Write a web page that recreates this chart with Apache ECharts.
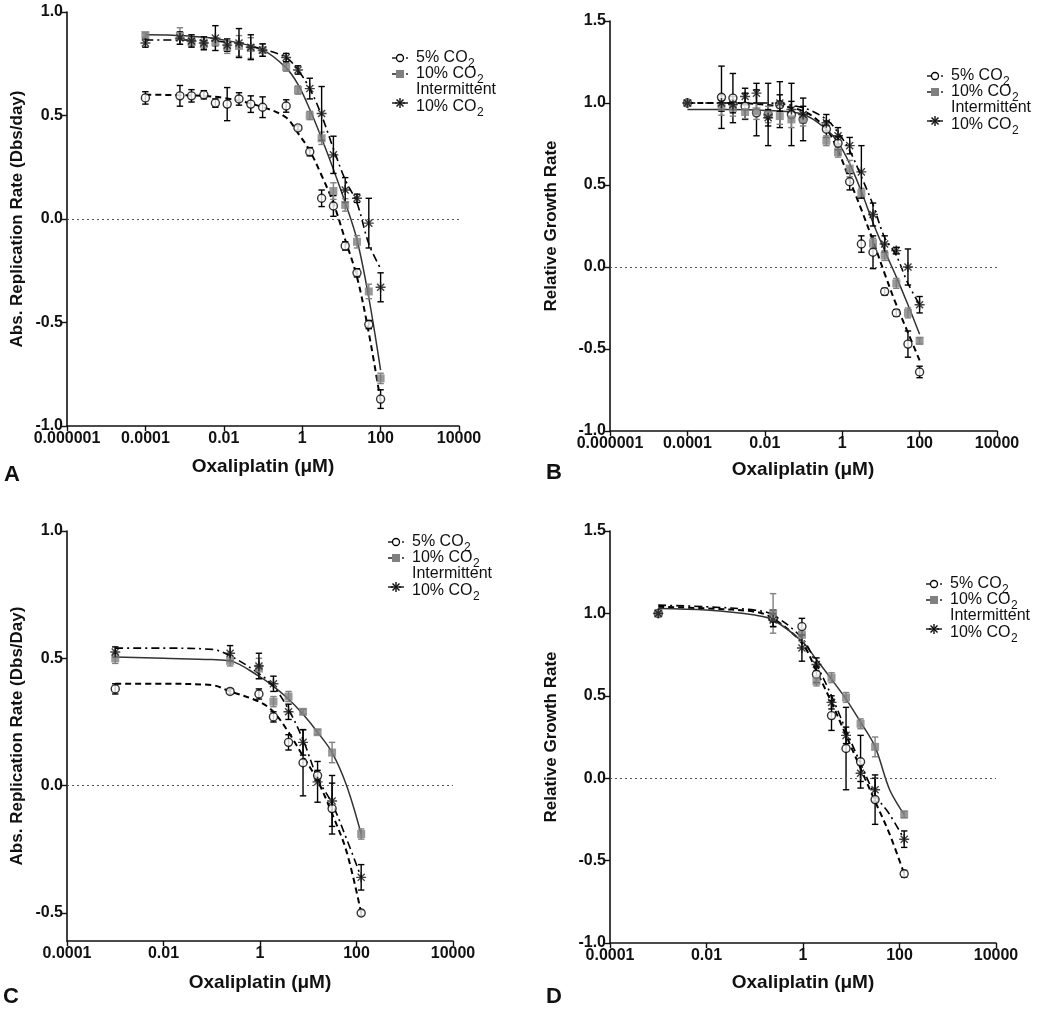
<!DOCTYPE html>
<html><head><meta charset="utf-8">
<script src="https://cdn.jsdelivr.net/npm/echarts@6/dist/echarts.min.js"></script>
<style>html,body{margin:0;padding:0;background:#fff}#c{width:1050px;height:1013px}</style>
</head><body><div id="c"></div><script>
// ---------- DATA ----------
const xTickValsAB = [1e-6, 1e-4, 1e-2, 1, 100, 1e4];
const xTickLabelsAB = ['0.000001', '0.0001', '0.01', '1', '100', '10000'];
const xTickValsCD = [1e-4, 1e-2, 1, 100, 1e4];
const xTickLabelsCD = ['0.0001', '0.01', '1', '100', '10000'];
const seriesNames = ['5% CO2', '10% CO2', 'Intermittent 10% CO2'];

// Panel A / B concentrations (µM)
const concAB = [0.0001, 0.00076, 0.0015, 0.0031, 0.0061, 0.0122, 0.0244, 0.0488, 0.0977, 0.39, 0.78, 1.56, 3.13, 6.25, 12.5, 25, 50, 100];
const A_co2_5 = [0.585, 0.595, 0.595, 0.60, 0.56, 0.555, 0.58, 0.555, 0.54, 0.546, 0.44, 0.325, 0.10, 0.063, -0.13, -0.26, -0.51, -0.87];
const A_co2_5_err = [0.03, 0.05, 0.03, 0.02, 0.02, 0.08, 0.03, 0.04, 0.05, 0.03, 0.01, 0.02, 0.04, 0.05, 0.02, 0.02, 0.02, 0.045];
const A_co2_10 = [0.889, 0.884, 0.855, 0.845, 0.855, 0.83, 0.836, 0.826, 0.816, 0.734, 0.623, 0.50, 0.39, 0.135, 0.068, -0.11, -0.35, -0.77];
const A_co2_10_err = [0.01, 0.04, 0.02, 0.03, 0.02, 0.03, 0.05, 0.05, 0.03, 0.02, 0.02, 0.02, 0.03, 0.04, 0.03, 0.03, 0.035, 0.025];
const A_int = [0.85, 0.874, 0.86, 0.85, 0.874, 0.84, 0.85, 0.83, 0.816, 0.78, 0.72, 0.63, 0.51, 0.31, 0.14, 0.10, -0.02, -0.33];
const A_int_err = [0.02, 0.03, 0.03, 0.03, 0.06, 0.03, 0.07, 0.06, 0.03, 0.02, 0.02, 0.05, 0.13, 0.09, 0.06, 0.02, 0.12, 0.07];

const B_co2_5 = [1.0, 1.035, 1.03, 0.98, 0.94, 0.93, 0.99, 0.93, 0.90, 0.84, 0.755, 0.52, 0.14, 0.09, -0.15, -0.28, -0.47, -0.64];
const B_co2_5_err = [0.01, 0.19, 0.15, 0.08, 0.14, 0.19, 0.14, 0.19, 0.13, 0.05, 0.04, 0.05, 0.05, 0.1, 0.02, 0.02, 0.08, 0.035];
const B_co2_10 = [1.0, 0.976, 0.97, 0.945, 0.95, 0.93, 0.92, 0.90, 0.90, 0.77, 0.70, 0.60, 0.45, 0.145, 0.07, -0.10, -0.28, -0.45];
const B_co2_10_err = [0.01, 0.05, 0.05, 0.04, 0.05, 0.05, 0.05, 0.05, 0.04, 0.03, 0.03, 0.05, 0.03, 0.03, 0.03, 0.03, 0.03, 0.02];
const B_int = [1.0, 1.0, 0.99, 1.04, 1.06, 0.91, 1.0, 0.96, 0.93, 0.88, 0.80, 0.74, 0.58, 0.32, 0.14, 0.10, 0.0, -0.23];
const B_int_err = [0.01, 0.05, 0.05, 0.05, 0.06, 0.05, 0.05, 0.05, 0.05, 0.05, 0.05, 0.05, 0.16, 0.07, 0.05, 0.02, 0.11, 0.05];

// fitted curves
const fitX_AB = [0.0001, 0.001, 0.01, 0.1, 0.39, 0.78, 1.56, 3.13, 6.25, 12.5, 25, 50, 100];
const A_fit_5 = [0.60, 0.598, 0.585, 0.54, 0.49, 0.415, 0.33, 0.21, 0.077, -0.10, -0.28, -0.55, -0.88];
const A_fit_10 = [0.89, 0.885, 0.865, 0.816, 0.73, 0.65, 0.53, 0.39, 0.24, 0.08, -0.10, -0.38, -0.73];
const A_fit_int = [0.865, 0.865, 0.855, 0.82, 0.78, 0.72, 0.63, 0.50, 0.34, 0.19, 0.077, -0.12, -0.24];
const B_fit_5 = [1.0, 1.0, 0.99, 0.95, 0.84, 0.71, 0.53, 0.35, 0.16, -0.04, -0.23, -0.40, -0.57];
const B_fit_10 = [0.96, 0.96, 0.955, 0.93, 0.84, 0.76, 0.63, 0.46, 0.27, 0.10, -0.06, -0.23, -0.41];
const B_fit_int = [1.0, 1.0, 1.0, 0.97, 0.90, 0.82, 0.71, 0.55, 0.38, 0.18, 0.07, -0.10, -0.23];

// Panel C / D concentrations (µM)
const concCD = [0.001, 0.24, 0.95, 1.9, 3.9, 7.8, 15.6, 31.2, 125];
const C_co2_5 = [0.38, 0.37, 0.36, 0.27, 0.17, 0.09, 0.04, -0.09, -0.50];
const C_co2_5_err = [0.02, 0.01, 0.02, 0.02, 0.03, 0.13, 0.02, 0.10, 0.01];
const C_co2_10 = [0.50, 0.49, 0.46, 0.33, 0.35, 0.29, 0.21, 0.13, -0.19];
const C_co2_10_err = [0.02, 0.02, 0.04, 0.02, 0.02, 0.01, 0.01, 0.04, 0.02];
const C_int = [0.525, 0.52, 0.47, 0.40, 0.29, 0.17, 0.015, -0.06, -0.36];
const C_int_err = [0.02, 0.03, 0.05, 0.03, 0.03, 0.05, 0.08, 0.10, 0.05];

const D_co2_5 = [1.0, 0.97, 0.92, 0.63, 0.38, 0.18, 0.10, -0.13, -0.58];
const D_co2_5_err = [0.01, 0.05, 0.05, 0.05, 0.09, 0.25, 0.16, 0.15, 0.02];
const D_co2_10 = [1.0, 1.0, 0.87, 0.59, 0.61, 0.49, 0.33, 0.19, -0.22];
const D_co2_10_err = [0.01, 0.12, 0.04, 0.03, 0.03, 0.03, 0.03, 0.06, 0.02];
const D_int = [1.0, 0.96, 0.79, 0.69, 0.46, 0.26, 0.03, -0.07, -0.37];
const D_int_err = [0.01, 0.04, 0.08, 0.04, 0.04, 0.05, 0.05, 0.07, 0.05];

const fitX_CD = [0.001, 0.01, 0.1, 0.24, 0.95, 1.9, 3.9, 7.8, 15.6, 31.2, 62.5, 125];
const C_fit_5 = [0.40, 0.40, 0.395, 0.37, 0.33, 0.29, 0.21, 0.115, 0.02, -0.11, -0.26, -0.50];
const C_fit_10 = [0.505, 0.50, 0.495, 0.49, 0.43, 0.39, 0.34, 0.28, 0.21, 0.13, 0.0, -0.19];
const C_fit_int = [0.54, 0.54, 0.535, 0.51, 0.44, 0.39, 0.30, 0.18, 0.03, -0.07, -0.21, -0.36];
const D_fit_5 = [1.04, 1.03, 1.01, 0.97, 0.82, 0.65, 0.46, 0.26, 0.06, -0.14, -0.34, -0.58];
const D_fit_10 = [1.03, 1.02, 0.99, 0.96, 0.83, 0.72, 0.60, 0.48, 0.34, 0.19, -0.07, -0.22];
const D_fit_int = [1.05, 1.04, 1.02, 0.99, 0.85, 0.69, 0.50, 0.29, 0.09, -0.10, -0.22, -0.37];

// ---------- STYLE / LAYOUT ----------
const FONT = '"Liberation Sans", Arial, Helvetica, sans-serif';
const GREY = '#808080';
const STAR = 'path://M-0.7,-5L0.7,-5L0.7,5L-0.7,5Z M-5,-0.7L5,-0.7L5,0.7L-5,0.7Z M-3.04,-4.03L4.03,3.04L3.04,4.03L-4.03,-3.04Z M3.04,-4.03L4.03,-3.04L-3.04,4.03L-4.03,3.04Z';

const panels = [
  { key: 'A', grid: { left: 67, top: 12, width: 392, height: 414 }, xmin: 1e-6, ticks: xTickValsAB, labels: xTickLabelsAB,
    ymin: -1, ymax: 1, yTicks: [-1, -0.5, 0, 0.5, 1],
    conc: concAB, vals: [A_co2_5, A_co2_10, A_int], errs: [A_co2_5_err, A_co2_10_err, A_int_err],
    fitX: fitX_AB, fits: [A_fit_5, A_fit_10, A_fit_int],
    ytitle: 'Abs. Replication Rate (Dbs/day)', ytx: 17, letter: [12, 475], xt: [263, 467], legend: [400, 58] },
  { key: 'B', grid: { left: 610, top: 21, width: 387, height: 410 }, xmin: 1e-6, ticks: xTickValsAB, labels: xTickLabelsAB,
    ymin: -1, ymax: 1.5, yTicks: [-1, -0.5, 0, 0.5, 1, 1.5],
    conc: concAB, vals: [B_co2_5, B_co2_10, B_int], errs: [B_co2_5_err, B_co2_10_err, B_int_err],
    fitX: fitX_AB, fits: [B_fit_5, B_fit_10, B_fit_int],
    ytitle: 'Relative Growth Rate', ytx: 551, letter: [554, 473], xt: [803, 470], legend: [935, 76] },
  { key: 'C', grid: { left: 67, top: 531, width: 386, height: 410 }, xmin: 1e-4, ticks: xTickValsCD, labels: xTickLabelsCD,
    ymin: -0.61, ymax: 1, yTicks: [-0.5, 0, 0.5, 1],
    conc: concCD, vals: [C_co2_5, C_co2_10, C_int], errs: [C_co2_5_err, C_co2_10_err, C_int_err],
    fitX: fitX_CD, fits: [C_fit_5, C_fit_10, C_fit_int],
    ytitle: 'Abs. Replication Rate (Dbs/Day)', ytx: 17, letter: [11, 997], xt: [260, 983], legend: [396, 542] },
  { key: 'D', grid: { left: 610, top: 531, width: 386, height: 412 }, xmin: 1e-4, ticks: xTickValsCD, labels: xTickLabelsCD,
    ymin: -1, ymax: 1.5, yTicks: [-1, -0.5, 0, 0.5, 1, 1.5],
    conc: concCD, vals: [D_co2_5, D_co2_10, D_int], errs: [D_co2_5_err, D_co2_10_err, D_int_err],
    fitX: fitX_CD, fits: [D_fit_5, D_fit_10, D_fit_int],
    ytitle: 'Relative Growth Rate', ytx: 551, letter: [554, 997], xt: [803, 983], legend: [934, 584] }
];

const markerStyles = [
  { symbol: 'circle', symbolSize: 8, itemStyle: { color: '#fff', borderColor: '#000', borderWidth: 1.4 } },
  { symbol: 'rect', symbolSize: 8, itemStyle: { color: GREY, borderColor: GREY, borderWidth: 0 } },
  { symbol: STAR, symbolSize: 10, itemStyle: { color: '#111' } }
];
const errColors = ['#000', GREY, '#000'];
const fitStyles = [
  { color: '#000', width: 2, type: [6, 4] },
  { color: '#333', width: 1.5, type: 'solid' },
  { color: '#000', width: 1.6, type: [8, 4, 2, 4] }
];

function errRender(color) {
  return function (params, api) {
    const x = api.value(0), y = api.value(1), e = api.value(2);
    const t = api.coord([x, y + e]), b = api.coord([x, y - e]);
    const w = 3.2, st = { stroke: color, lineWidth: 1.4 };
    return { type: 'group', children: [
      { type: 'line', shape: { x1: t[0], y1: t[1], x2: b[0], y2: b[1] }, style: st },
      { type: 'line', shape: { x1: t[0] - w, y1: t[1], x2: t[0] + w, y2: t[1] }, style: st },
      { type: 'line', shape: { x1: b[0] - w, y1: b[1], x2: b[0] + w, y2: b[1] }, style: st }
    ] };
  };
}

const grids = [], xAxes = [], yAxes = [], series = [], graphics = [];
const labelFont = { fontFamily: FONT, fontWeight: 'bold', fontSize: 16, color: '#111' };
const ctx = document.createElement('canvas').getContext('2d');

panels.forEach((p, gi) => {
  grids.push(Object.assign({ containLabel: false }, p.grid));
  xAxes.push({
    type: 'log', logBase: 10, gridIndex: gi, min: p.xmin, max: 1e4,
    axisLine: { onZero: false, lineStyle: { color: '#111', width: 1.6 } },
    axisTick: { show: true, length: 5, lineStyle: { color: '#111', width: 1.4 }, customValues: p.ticks },
    axisLabel: Object.assign({ margin: 5, customValues: p.ticks,
      formatter: (v) => { const e = Math.round(Math.log10(v)); const i = p.ticks.findIndex(t => Math.round(Math.log10(t)) === e); return i >= 0 ? p.labels[i] : ''; } }, labelFont),
    splitLine: { show: false }, minorTick: { show: false }
  });
  yAxes.push({
    type: 'value', gridIndex: gi, min: p.ymin, max: p.ymax,
    axisLine: { show: true, onZero: false, lineStyle: { color: '#111', width: 1.6 } },
    axisTick: { show: true, length: 5, lineStyle: { color: '#111', width: 1.4 }, customValues: p.yTicks },
    axisLabel: Object.assign({ margin: 4, customValues: p.yTicks, formatter: (v) => v.toFixed(1) }, labelFont),
    splitLine: { show: false }
  });
  p.fits.forEach((f, k) => {
    const s = {
      type: 'line', xAxisIndex: gi, yAxisIndex: gi, name: seriesNames[k] + ' fit',
      data: p.fitX.map((x, i) => [x, f[i]]), showSymbol: false, symbol: 'none', smooth: 0.35,
      lineStyle: fitStyles[k], z: 2, silent: true
    };
    if (k === 0) s.markLine = { silent: true, symbol: 'none', label: { show: false },
      lineStyle: { type: [2, 3], color: '#555', width: 1.2 }, data: [{ yAxis: 0 }] };
    series.push(s);
  });
  p.vals.forEach((v, k) => {
    series.push({
      type: 'custom', xAxisIndex: gi, yAxisIndex: gi, name: seriesNames[k] + ' err',
      data: p.conc.map((x, i) => [x, v[i], p.errs[k][i]]), renderItem: errRender(errColors[k]), z: 3, silent: true
    });
  });
  p.vals.forEach((v, k) => {
    series.push(Object.assign({
      type: 'scatter', xAxisIndex: gi, yAxisIndex: gi, name: seriesNames[k],
      data: p.conc.map((x, i) => [x, v[i]]), z: 4 + k
    }, markerStyles[k]));
  });

  const cy = p.grid.top + p.grid.height / 2;
  graphics.push({ type: 'text', x: p.ytx, y: cy, rotation: Math.PI / 2,
    style: { text: p.ytitle, font: 'bold 17px ' + FONT, fill: '#111', textAlign: 'center', textVerticalAlign: 'middle' } });
  graphics.push({ type: 'text', x: p.xt[0], y: p.xt[1],
    style: { text: 'Oxaliplatin (\u03bcM)', font: 'bold 19px ' + FONT, fill: '#111', textAlign: 'center', textVerticalAlign: 'middle' } });
  graphics.push({ type: 'text', x: p.letter[0], y: p.letter[1],
    style: { text: p.key, font: 'bold 22px ' + FONT, fill: '#111', textAlign: 'center', textVerticalAlign: 'middle' } });

  // legend
  const lx = p.legend[0], ly = p.legend[1];
  const rows = [ly, ly + 16, ly + 32, ly + 49];
  const f16 = '16px ' + FONT;
  ctx.font = f16;
  const entry = (row, txt, sub) => {
    graphics.push({ type: 'text', x: lx + 16, y: row, style: { text: txt, font: f16, fill: '#111', textVerticalAlign: 'middle' } });
    if (sub) {
      const w = ctx.measureText(txt).width;
      graphics.push({ type: 'text', x: lx + 16 + w + 0.5, y: row + 6, style: { text: sub, font: '12px ' + FONT, fill: '#111', textVerticalAlign: 'middle' } });
    }
  };
  const seg = (row, dash) => graphics.push({ type: 'line', shape: { x1: lx - 8, y1: row, x2: lx + 8, y2: row }, style: { stroke: '#222', lineWidth: 1.5, lineDash: dash } });
  seg(rows[0], [4, 3]);
  graphics.push({ type: 'circle', shape: { cx: lx, cy: rows[0], r: 3.5 }, style: { fill: '#fff', stroke: '#000', lineWidth: 1.3 }, z: 10 });
  seg(rows[1], [4, 3]);
  graphics.push({ type: 'rect', shape: { x: lx - 4, y: rows[1] - 4, width: 8, height: 8 }, style: { fill: GREY }, z: 10 });
  const sy = rows[3] - 4;
  seg(sy, [5, 2, 2, 2]);
  [[0, -5, 0, 5], [-5, 0, 5, 0], [-3.5, -3.5, 3.5, 3.5], [3.5, -3.5, -3.5, 3.5]].forEach(l =>
    graphics.push({ type: 'line', shape: { x1: lx + l[0], y1: sy + l[1], x2: lx + l[2], y2: sy + l[3] }, style: { stroke: '#111', lineWidth: 1.4 }, z: 10 }));
  entry(rows[0], '5% CO', '2');
  entry(rows[1], '10% CO', '2');
  entry(rows[2], 'Intermittent', '');
  entry(rows[3], '10% CO', '2');
});

const chart = echarts.init(document.getElementById('c'), null, { renderer: 'canvas' });
chart.setOption({
  animation: false, backgroundColor: '#fff',
  grid: grids, xAxis: xAxes, yAxis: yAxes, series: series, graphic: graphics
});
</script></body></html>
